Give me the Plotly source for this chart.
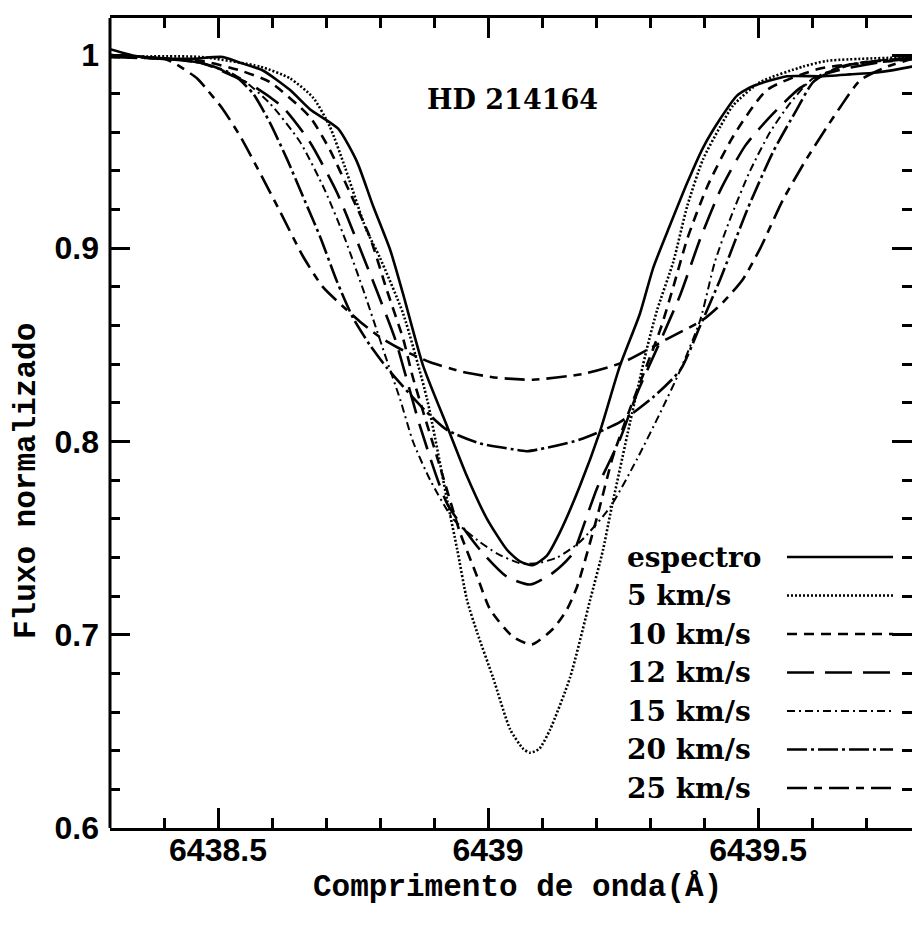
import plotly.graph_objects as go

# Observed spectrum of HD 214164 around 6439 Å and synthetic profiles
# broadened with different projected rotational velocities.

esp_wl = [6438.300, 6438.356, 6438.448, 6438.509, 6438.541, 6438.583, 6438.633, 6438.670,
          6438.722, 6438.757, 6438.787, 6438.819, 6438.843, 6438.880, 6438.924, 6438.961,
          6438.998, 6439.035, 6439.059, 6439.083, 6439.109, 6439.133, 6439.170, 6439.207,
          6439.244, 6439.281, 6439.306, 6439.337, 6439.369, 6439.398, 6439.430, 6439.461,
          6439.491, 6439.554, 6439.615, 6439.670, 6439.720, 6439.785, 6439.800]
esp_fx = [1.003, 0.999, 0.998, 0.999, 0.996, 0.992, 0.982, 0.972,
          0.962, 0.945, 0.922, 0.899, 0.876, 0.839, 0.808, 0.782,
          0.760, 0.744, 0.738, 0.736, 0.741, 0.753, 0.777, 0.805,
          0.839, 0.866, 0.890, 0.912, 0.934, 0.952, 0.967, 0.979,
          0.984, 0.989, 0.989, 0.990, 0.991, 0.994, 0.995]

v5_wl = [6438.300, 6438.467, 6438.578, 6438.633, 6438.676, 6438.707, 6438.735, 6438.774,
         6438.800, 6438.843, 6438.887, 6438.924, 6438.943, 6438.961, 6438.980, 6439.009,
         6439.041, 6439.065, 6439.078, 6439.095, 6439.115, 6439.152, 6439.189, 6439.213,
         6439.226, 6439.263, 6439.294, 6439.313, 6439.343, 6439.369, 6439.398, 6439.430,
         6439.454, 6439.504, 6439.583, 6439.628, 6439.800]
v5_fx = [0.999, 0.999, 0.994, 0.988, 0.978, 0.963, 0.942, 0.910,
         0.895, 0.866, 0.822, 0.770, 0.744, 0.718, 0.701, 0.678,
         0.651, 0.641, 0.639, 0.641, 0.651, 0.678, 0.718, 0.744,
         0.762, 0.810, 0.848, 0.868, 0.893, 0.922, 0.946, 0.963,
         0.974, 0.986, 0.994, 0.997, 0.999]

v10_wl = [6438.300, 6438.467, 6438.541, 6438.596, 6438.670, 6438.707, 6438.744, 6438.781,
          6438.813, 6438.843, 6438.861, 6438.911, 6438.948, 6438.980, 6439.004, 6439.046,
          6439.081, 6439.120, 6439.146, 6439.165, 6439.202, 6439.231, 6439.263, 6439.319,
          6439.343, 6439.369, 6439.406, 6439.454, 6439.517, 6439.615, 6439.800]
v10_fx = [0.999, 0.997, 0.992, 0.986, 0.968, 0.951, 0.929, 0.906,
          0.878, 0.853, 0.833, 0.787, 0.753, 0.730, 0.713, 0.699,
          0.695, 0.703, 0.713, 0.725, 0.761, 0.792, 0.817, 0.858,
          0.880, 0.905, 0.932, 0.958, 0.982, 0.993, 0.998]

v12_wl = [6438.300, 6438.467, 6438.565, 6438.620, 6438.670, 6438.720, 6438.757, 6438.794,
          6438.828, 6438.874, 6438.924, 6438.985, 6439.035, 6439.078, 6439.120, 6439.157,
          6439.170, 6439.202, 6439.244, 6439.276, 6439.319, 6439.356, 6439.393, 6439.430,
          6439.476, 6439.522, 6439.578, 6439.633, 6439.744, 6439.800]
v12_fx = [0.999, 0.996, 0.984, 0.973, 0.955, 0.929, 0.904, 0.878,
          0.853, 0.808, 0.768, 0.744, 0.730, 0.726, 0.732, 0.742,
          0.751, 0.776, 0.801, 0.825, 0.852, 0.876, 0.905, 0.930,
          0.953, 0.968, 0.983, 0.991, 0.997, 0.998]

v15_wl = [6438.300, 6438.467, 6438.541, 6438.596, 6438.652, 6438.698, 6438.735, 6438.772,
          6438.809, 6438.837, 6438.861, 6438.893, 6438.935, 6438.980, 6439.017, 6439.059,
          6439.091, 6439.128, 6439.170, 6439.226, 6439.276, 6439.319, 6439.356, 6439.393,
          6439.420, 6439.448, 6439.485, 6439.522, 6439.559, 6439.602, 6439.689, 6439.800]
v15_fx = [1.000, 0.996, 0.988, 0.975, 0.955, 0.930, 0.905, 0.876,
          0.845, 0.822, 0.800, 0.780, 0.760, 0.749, 0.742, 0.737,
          0.737, 0.740, 0.748, 0.766, 0.791, 0.815, 0.837, 0.863,
          0.893, 0.915, 0.940, 0.960, 0.975, 0.988, 0.996, 0.999]

v20_wl = [6438.300, 6438.467, 6438.528, 6438.565, 6438.596, 6438.628, 6438.657, 6438.689,
          6438.720, 6438.750, 6438.781, 6438.813, 6438.880, 6438.924, 6438.985, 6439.046,
          6439.072, 6439.170, 6439.244, 6439.306, 6439.356, 6439.393, 6439.430, 6439.480,
          6439.528, 6439.572, 6439.602, 6439.652, 6439.800]
v20_fx = [1.000, 0.996, 0.990, 0.980, 0.965, 0.946, 0.927, 0.906,
          0.883, 0.864, 0.850, 0.838, 0.817, 0.806, 0.799, 0.796,
          0.795, 0.801, 0.810, 0.823, 0.837, 0.860, 0.884, 0.920,
          0.950, 0.972, 0.986, 0.994, 0.999]

v25_wl = [6438.300, 6438.402, 6438.424, 6438.461, 6438.480, 6438.509, 6438.541, 6438.572,
          6438.615, 6438.657, 6438.694, 6438.731, 6438.763, 6438.800, 6438.837, 6438.893,
          6438.954, 6439.017, 6439.083, 6439.176, 6439.250, 6439.331, 6439.398, 6439.435,
          6439.472, 6439.504, 6439.546, 6439.587, 6439.628, 6439.652, 6439.689, 6439.739,
          6439.785, 6439.800]
v25_fx = [1.000, 0.998, 0.995, 0.988, 0.982, 0.972, 0.958, 0.942,
          0.919, 0.896, 0.880, 0.870, 0.862, 0.854, 0.848, 0.841,
          0.836, 0.833, 0.832, 0.835, 0.841, 0.853, 0.863, 0.872,
          0.884, 0.900, 0.925, 0.945, 0.963, 0.973, 0.987, 0.994,
          0.998, 0.999]

labels = ["espectro", "5 km/s", "10 km/s", "12 km/s", "15 km/s", "20 km/s", "25 km/s"]
wavelengths = [esp_wl, v5_wl, v10_wl, v12_wl, v15_wl, v20_wl, v25_wl]
fluxes = [esp_fx, v5_fx, v10_fx, v12_fx, v15_fx, v20_fx, v25_fx]

# line style for each profile: (dash pattern, width)
styles = [
    ("solid", 2.6),
    ("2px,2px", 2.6),
    ("10px,7px", 2.6),
    ("27px,11px", 2.6),
    ("8px,4px,2px,4px", 2.0),
    ("20px,4px,3px,4px", 2.6),
    ("20px,7px,8px,7px", 2.6),
]

W, H = 912, 925
ML, MR, MT, MB = 110, 0, 18, 97
PW, PH = W - ML - MR, H - MT - MB

fig = go.Figure()
for lab, wl, fx, (dash, w) in zip(labels, wavelengths, fluxes, styles):
    fig.add_trace(go.Scatter(
        x=wl, y=fx, mode="lines", name=lab, showlegend=False, hoverinfo="skip",
        line=dict(color="black", width=w, dash=dash, shape="spline", smoothing=0.6),
    ))

def px_x(px):
    return (px - ML) / PW

def px_y(py):
    return (H - MB - py) / PH

# key: text on the left, line sample on the right
annotations = []
shapes = []
row0, row_step = 557, 38.5
for i, (lab, (dash, w)) in enumerate(zip(labels, styles)):
    yy = px_y(row0 + i * row_step)
    annotations.append(dict(
        x=px_x(625), y=yy, xref="paper", yref="paper", text=lab, showarrow=False,
        xanchor="left", yanchor="middle",
        font=dict(family="DejaVu Serif", size=28, color="black", weight="bold"),
    ))
    shapes.append(dict(
        type="line", xref="paper", yref="paper", x0=px_x(787), x1=px_x(893), y0=yy, y1=yy,
        line=dict(color="black", width=w, dash=dash),
    ))

# left frame edge (the right edge falls outside the canvas)
shapes.append(dict(type="line", xref="paper", yref="paper", x0=0, x1=0, y0=0, y1=1,
                   line=dict(color="black", width=3)))

annotations.append(dict(
    x=px_x(512), y=px_y(100), xref="paper", yref="paper", text="HD 214164", showarrow=False,
    xanchor="center", yanchor="middle",
    font=dict(family="DejaVu Serif", size=27, color="black", weight="bold"),
))
annotations.append(dict(
    x=px_x(517), y=px_y(887), xref="paper", yref="paper", text="Comprimento de onda(Å)",
    showarrow=False, xanchor="center", yanchor="middle",
    font=dict(family="Liberation Mono", size=31, color="black", weight="bold"),
))
annotations.append(dict(
    x=px_x(27), y=px_y(481), xref="paper", yref="paper", text="Fluxo normalizado",
    showarrow=False, xanchor="center", yanchor="middle", textangle=-90,
    font=dict(family="Liberation Mono", size=31, color="black", weight="bold"),
))

tickfont = dict(family="Liberation Sans", size=32, color="black", weight="bold")
tick_common = dict(
    ticks="inside", ticklen=20, tickwidth=2.5, tickcolor="black", mirror="ticks",
    showgrid=False, zeroline=False, tickfont=tickfont,
)

fig.update_xaxes(
    range=[6438.3, 6439.785], tick0=6438.5, dtick=0.5, tickformat="~g",
    ticklabelstandoff=-8, showline=True, linewidth=3, linecolor="black",
    minor=dict(tick0=6438.5, dtick=0.1, ticks="inside", ticklen=10, tickwidth=2.5,
               tickcolor="black", showgrid=False),
    **tick_common,
)
fig.update_yaxes(
    range=[0.6, 1.01917], tick0=0.6, dtick=0.1, ticklabelstandoff=10, showline=False,
    minor=dict(tick0=0.6, dtick=0.02, ticks="inside", ticklen=10, tickwidth=2.5,
               tickcolor="black", showgrid=False),
    **tick_common,
)

fig.update_layout(
    width=W, height=H, margin=dict(l=ML, r=MR, t=MT, b=MB),
    paper_bgcolor="white", plot_bgcolor="white", showlegend=False,
    annotations=annotations, shapes=shapes,
)

fig.write_html("out.html")
